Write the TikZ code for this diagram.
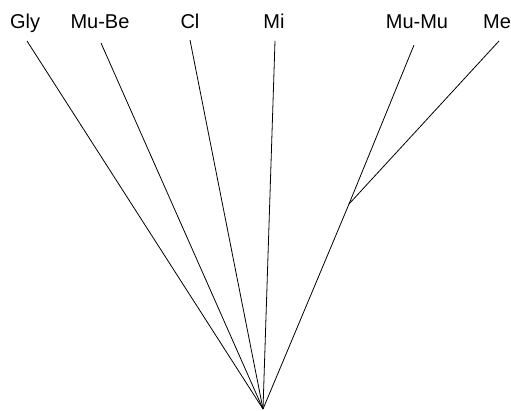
\documentclass[tikz,border=0pt]{standalone}
\usepackage{fontspec}
\setmainfont{Liberation Sans}
\begin{document}
\begin{tikzpicture}[x=1pt,y=-1pt,
  branch/.style={line width=0.8pt},
  taxon/.style={font=\fontsize{20}{22}\selectfont, inner sep=0pt, anchor=base}]
\useasboundingbox (0,0) rectangle (511,410);
% leaf labels
\node[taxon] (lGly) at (25,28) {Gly};
\node[taxon] (lMuBe) at (100,28) {Mu-Be};
\node[taxon] (lCl) at (190,28) {Cl};
\node[taxon] (lMi) at (274,28) {Mi};
\node[taxon] (lMuMu) at (417,28) {Mu-Mu};
\node[taxon] (lMe) at (497,28) {Me};
% branch tips, root and inner node
\coordinate (tGly) at (27,41);
\coordinate (tMuBe) at (101,43);
\coordinate (tCl) at (190,40);
\coordinate (tMi) at (275,41);
\coordinate (tMuMu) at (414,45);
\coordinate (tMe) at (499,41);
\coordinate (root) at (263,409);
\coordinate (inner) at (349,204);
% tree
\draw[branch] (root) -- (tGly);
\draw[branch] (root) -- (tMuBe);
\draw[branch] (root) -- (tCl);
\draw[branch] (root) -- (tMi);
\draw[branch] (root) -- (inner);
\draw[branch] (inner) -- (tMuMu);
\draw[branch] (inner) -- (tMe);
\end{tikzpicture}
\end{document}
